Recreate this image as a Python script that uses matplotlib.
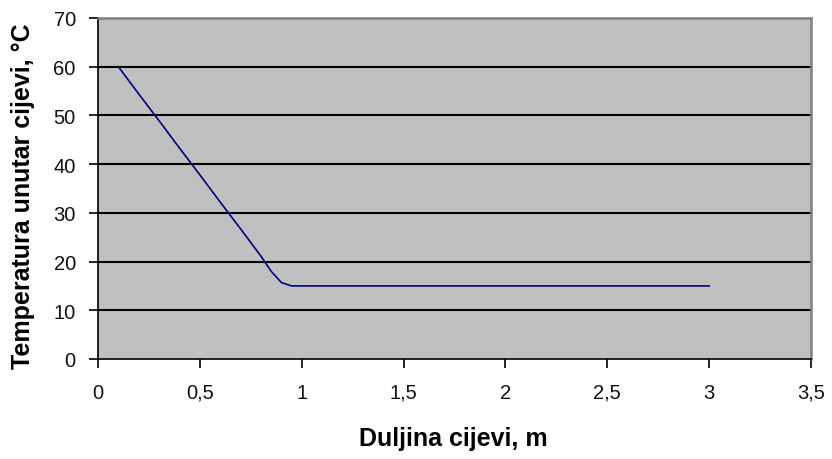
import matplotlib.pyplot as plt
from matplotlib.ticker import FuncFormatter

# duljina cijevi (m) i temperatura (°C)
duljina = [0.1, 0.2, 0.3, 0.4, 0.5, 0.6, 0.7, 0.8, 0.85, 0.9, 0.95, 1.0,
           1.5, 2.0, 2.5, 3.0]
temperatura = [60.0, 54.4, 48.9, 43.3, 37.8, 32.2, 26.7, 21.1, 18.0, 15.7,
               15.0, 15.0, 15.0, 15.0, 15.0, 15.0]

x_ticks = [0, 0.5, 1, 1.5, 2, 2.5, 3, 3.5]
y_ticks = [0, 10, 20, 30, 40, 50, 60, 70]

plt.rcParams['font.family'] = ['Liberation Sans', 'DejaVu Sans']

fig = plt.figure(figsize=(8.32, 4.6), dpi=100)
ax = fig.add_axes([0.1178, 0.2174, 0.857, 0.7413])
ax.set_facecolor('#C0C0C0')

for y in y_ticks[1:]:
    ax.axhline(y, color='black', lw=1.5, zorder=1)

ax.plot(duljina, temperatura, color='#000080', lw=1.2, zorder=3)

ax.set_xlim(0, 3.5)
ax.set_ylim(0, 70)
ax.set_xticks(x_ticks)
ax.set_yticks(y_ticks)
fmt = FuncFormatter(lambda v, p: ('%g' % v).replace('.', ','))
ax.xaxis.set_major_formatter(fmt)
ax.yaxis.set_major_formatter(fmt)
ax.tick_params(direction='out', length=6.5, width=1.2, labelsize=14.5,
               labelcolor='#111111')
ax.tick_params(axis='x', pad=10.5)
ax.tick_params(axis='y', pad=9.5)

for s in ['top', 'right']:
    ax.spines[s].set_color('#808080')
    ax.spines[s].set_linewidth(1.8)
for s in ['left', 'bottom']:
    ax.spines[s].set_color('black')
    ax.spines[s].set_linewidth(1.2)

fig.text(0.5445, 0.0457, 'Duljina cijevi, m', fontsize=18, fontweight='bold',
         ha='center', va='center')
fig.text(0.0282, 0.574, 'Temperatura unutar cijevi, °C', fontsize=18,
         fontweight='bold', rotation=90, ha='center', va='center')

fig.savefig('out.png', dpi=100)
